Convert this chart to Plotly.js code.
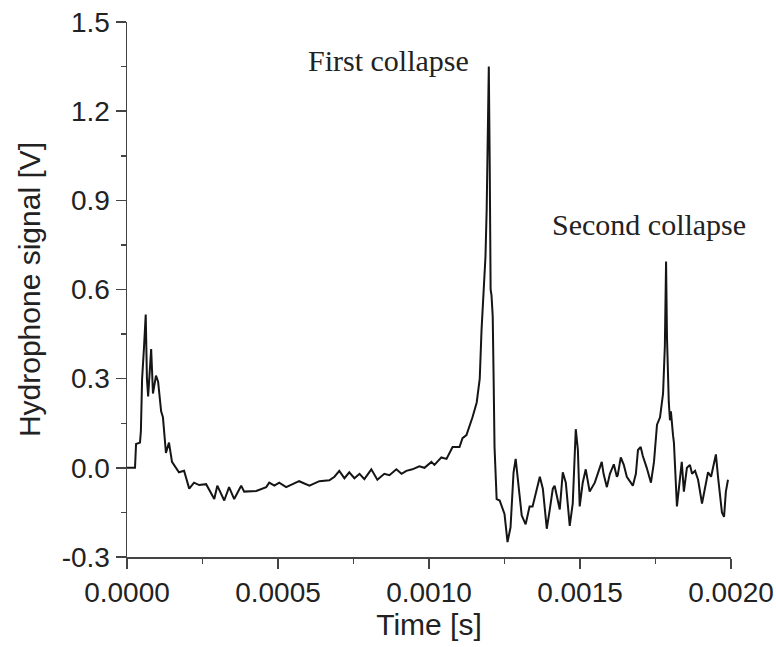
<!DOCTYPE html>
<html>
<head>
<meta charset="utf-8">
<script src="https://cdn.plot.ly/plotly-3.0.1.min.js"></script>
<style>html,body{margin:0;padding:0;background:#fff;}#chart{width:776px;height:647px;}</style>
</head>
<body>
<div id="chart"></div>
<script>
// Time values in seconds
const timeS = [
  0, 0.0000265, 0.000030, 0.000043, 0.000046, 0.000050, 0.000056, 0.000062, 0.000066, 0.000070,
  0.000080, 0.000086, 0.000096, 0.000103, 0.000113, 0.000119, 0.000129, 0.000139, 0.000149, 0.000156,
  0.000172, 0.000189, 0.000196, 0.000206, 0.000222, 0.000239, 0.000262, 0.000272, 0.000289, 0.000299,
  0.000322, 0.000338, 0.000355, 0.000378, 0.000388, 0.000428, 0.000461, 0.000471, 0.000488, 0.000504,
  0.000527, 0.000570, 0.000604, 0.000637, 0.000670, 0.000687, 0.000703, 0.000720, 0.000736, 0.000753,
  0.000770, 0.000786, 0.000809, 0.000829, 0.000852, 0.000869, 0.000892, 0.000909, 0.000925, 0.000945,
  0.000968, 0.000985, 0.001008, 0.001018, 0.001041, 0.001058, 0.001078, 0.001101, 0.001111, 0.001124,
  0.001134, 0.001144, 0.001158, 0.001168, 0.001174, 0.001181, 0.001187, 0.001191, 0.001194, 0.001198,
  0.001201, 0.001204, 0.001207, 0.001211, 0.001214, 0.001217, 0.001224, 0.001234, 0.001250, 0.001260,
  0.001270, 0.001280, 0.001287, 0.001294, 0.001307, 0.001320, 0.001333, 0.001343, 0.001357, 0.001367,
  0.001377, 0.001390, 0.001400, 0.001410, 0.001416, 0.001433, 0.001443, 0.001453, 0.001466, 0.001476,
  0.001486, 0.001493, 0.001499, 0.001509, 0.001519, 0.001526, 0.001532, 0.001549, 0.001559, 0.001572,
  0.001578, 0.001589, 0.001599, 0.001612, 0.001622, 0.001625, 0.001635, 0.001645, 0.001655, 0.001675,
  0.001685, 0.001692, 0.001701, 0.001708, 0.001721, 0.001735, 0.001745, 0.001755, 0.001765, 0.001775,
  0.001781, 0.001785, 0.001788, 0.001791, 0.001794, 0.001798, 0.001801, 0.001808, 0.001811, 0.001821,
  0.001831, 0.001837, 0.001844, 0.001854, 0.001864, 0.001871, 0.001881, 0.001891, 0.001904, 0.001914,
  0.001924, 0.001934, 0.001940, 0.001950, 0.001957, 0.001970, 0.001977, 0.001983, 0.001990
];
// Hydrophone signal in volts
const signalV = [
  0, 0, 0.08, 0.085, 0.124, 0.30, 0.40, 0.516, 0.30, 0.24,
  0.40, 0.25, 0.31, 0.29, 0.19, 0.17, 0.05, 0.085, 0.02, 0.01,
  -0.015, -0.01, -0.038, -0.07, -0.05, -0.058, -0.055, -0.075, -0.105, -0.06,
  -0.11, -0.065, -0.105, -0.06, -0.08, -0.078, -0.065, -0.05, -0.06, -0.05,
  -0.065, -0.045, -0.06, -0.045, -0.042, -0.03, -0.01, -0.035, -0.015, -0.035,
  -0.02, -0.038, -0.005, -0.04, -0.02, -0.025, -0.005, -0.02, -0.01, -0.005,
  0.005, 0.0, 0.02, 0.01, 0.035, 0.03, 0.07, 0.07, 0.10, 0.11,
  0.14, 0.17, 0.22, 0.30, 0.465, 0.58, 0.71, 0.87, 1.08, 1.35,
  1.03, 0.60, 0.58, 0.51, 0.30, 0.07, -0.105, -0.11, -0.155, -0.25,
  -0.20, -0.015, 0.03, -0.03, -0.16, -0.19, -0.13, -0.13, -0.07, -0.03,
  -0.07, -0.205, -0.14, -0.07, -0.06, -0.14, -0.015, -0.05, -0.195, -0.12,
  0.13, 0.06, -0.13, -0.05, -0.005, -0.04, -0.08, -0.05, -0.02, 0.02,
  -0.02, -0.065, -0.02, 0.012, -0.03, -0.025, 0.035, 0.01, -0.03, -0.06,
  -0.02, 0.06, 0.07, 0.04, 0.0, -0.05, 0.02, 0.145, 0.17, 0.25,
  0.41, 0.694, 0.44, 0.30, 0.22, 0.16, 0.19, 0.11, 0.085, -0.13,
  -0.04, 0.02, -0.08, 0.0, 0.01, -0.02, -0.01, -0.04, -0.12, -0.06,
  -0.015, -0.03, 0.0, 0.045, -0.03, -0.15, -0.165, -0.08, -0.04
];
const xTickVals = [0, 0.0005, 0.001, 0.0015, 0.002];
const xTickText = ["0.0000", "0.0005", "0.0010", "0.0015", "0.0020"];
const yTickVals = [-0.3, 0.0, 0.3, 0.6, 0.9, 1.2, 1.5];
const yTickText = ["-0.3", "0.0", "0.3", "0.6", "0.9", "1.2", "1.5"];
const labelTexts = ["First collapse", "Second collapse"];
const labelX = [0.000865, 0.00173];
const labelY = [1.37, 0.82];

const tickFont = {family: "Liberation Sans, Arial, sans-serif", size: 28, color: "#222"};
const titleFont = {family: "Liberation Sans, Arial, sans-serif", size: 30, color: "#222"};
const data = [{
  x: timeS, y: signalV, type: "scatter", mode: "lines",
  line: {color: "#151515", width: 2}, hoverinfo: "skip"
}];
const layout = {
  width: 776, height: 647,
  margin: {l: 127, r: 45, t: 22, b: 90},
  paper_bgcolor: "#fff", plot_bgcolor: "#fff",
  showlegend: false,
  xaxis: {
    range: [0, 0.002], tickmode: "array", tickvals: xTickVals, ticktext: xTickText,
    ticks: "outside", ticklen: 10, tickwidth: 1.5, tickcolor: "#444",
    showline: true, linecolor: "#444", linewidth: 1.5, showgrid: false, zeroline: false,
    minor: {dtick: 0.00025, ticks: "outside", ticklen: 5, tickwidth: 1.5, tickcolor: "#444", showgrid: false},
    tickfont: tickFont,
    title: {text: "Time [s]", font: titleFont, standoff: 6}
  },
  yaxis: {
    range: [-0.3, 1.5], tickmode: "array", tickvals: yTickVals, ticktext: yTickText,
    ticks: "outside", ticklen: 10, tickwidth: 1.5, tickcolor: "#444",
    showline: true, linecolor: "#444", linewidth: 1.5, showgrid: false, zeroline: false,
    minor: {dtick: 0.15, ticks: "outside", ticklen: 5, tickwidth: 1.5, tickcolor: "#444", showgrid: false},
    tickfont: tickFont,
    title: {text: "Hydrophone signal [V]", font: titleFont, standoff: 12}
  },
  annotations: labelTexts.map((t, i) => ({
    x: labelX[i], y: labelY[i], xref: "x", yref: "y", text: t, showarrow: false,
    font: {family: "Liberation Serif, Times New Roman, serif", size: 30, color: "#222"}
  }))
};
Plotly.newPlot("chart", data, layout, {displayModeBar: false, staticPlot: true});
</script>
</body>
</html>
